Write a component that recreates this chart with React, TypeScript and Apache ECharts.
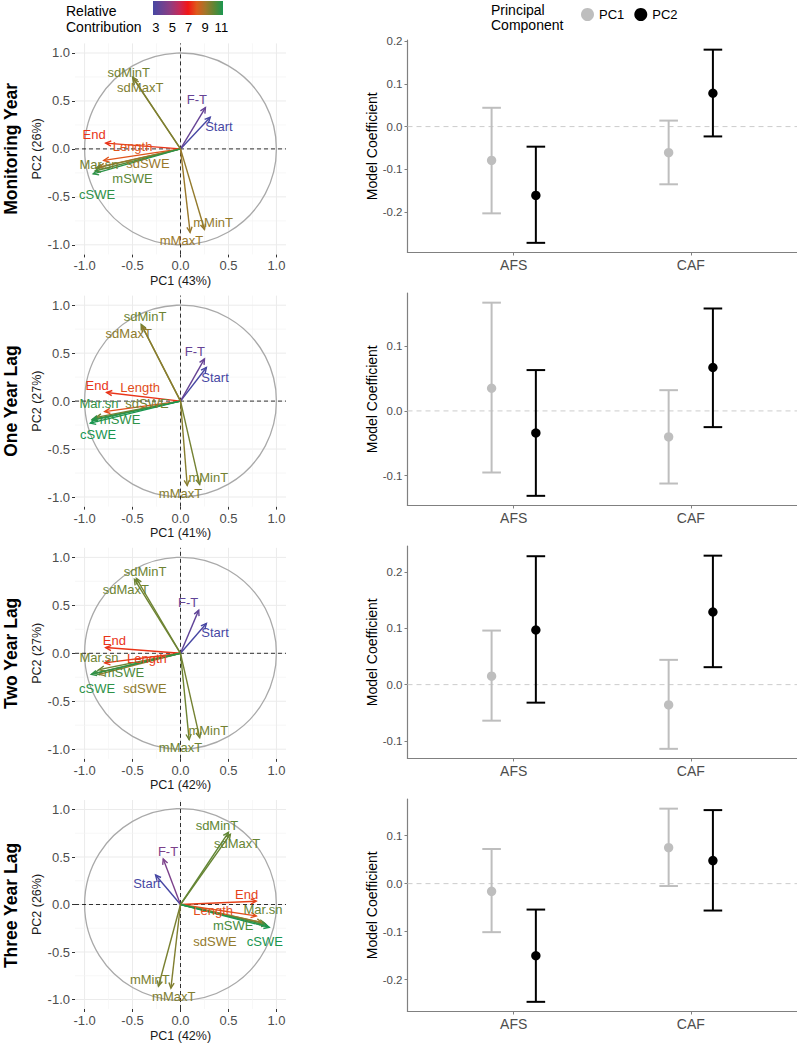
import React, { useEffect, useRef } from 'react';
import * as echarts from 'echarts';

const FONT = '"Liberation Sans", Arial, Helvetica, sans-serif';

// ---------- PCA variable loadings ----------
const variables = ['Start', 'F-T', 'End', 'Length', 'Mar.sn', 'sdSWE', 'mSWE', 'cSWE', 'mMinT', 'mMaxT', 'sdMinT', 'sdMaxT'];
const rowTitles = ['Monitoring Year', 'One Year Lag', 'Two Year Lag', 'Three Year Lag'];
const pc1Explained = ['43%', '41%', '42%', '42%'];
const pc2Explained = ['26%', '27%', '27%', '26%'];

// Monitoring Year
const myPC1 = [0.31, 0.26, -0.78, -0.80, -0.88, -0.85, -0.89, -0.91, 0.25, 0.10, -0.50, -0.49];
const myPC2 = [0.33, 0.43, 0.06, -0.12, -0.20, -0.19, -0.23, -0.26, -0.84, -0.87, 0.75, 0.73];
const myContrib = [2.5, 3.6, 7.4, 7.9, 9.8, 9.2, 10.2, 10.9, 9.3, 9.2, 9.8, 9.6];
const myLabelX = [0.40, 0.17, -0.90, -0.50, -0.85, -0.34, -0.50, -0.87, 0.34, 0.01, -0.54, -0.42];
const myLabelY = [0.23, 0.52, 0.15, 0.02, -0.16, -0.15, -0.31, -0.48, -0.77, -0.95, 0.80, 0.64];

// One Year Lag
const oyPC1 = [0.27, 0.25, -0.77, -0.79, -0.92, -0.88, -0.92, -0.94, 0.20, 0.07, -0.41, -0.40];
const oyPC2 = [0.35, 0.44, 0.09, -0.11, -0.19, -0.17, -0.20, -0.23, -0.87, -0.88, 0.80, 0.78];
const oyContrib = [2.4, 3.6, 7.4, 7.8, 10.8, 9.8, 10.9, 11.4, 9.8, 9.5, 9.9, 9.4];
const oyLabelX = [0.36, 0.15, -0.87, -0.42, -0.85, -0.35, -0.63, -0.86, 0.29, 0.00, -0.37, -0.54];
const oyLabelY = [0.25, 0.52, 0.16, 0.14, -0.03, -0.03, -0.19, -0.35, -0.80, -0.96, 0.88, 0.70];

// Two Year Lag
const tyPC1 = [0.27, 0.19, -0.78, -0.79, -0.85, -0.85, -0.90, -0.93, 0.20, 0.09, -0.46, -0.48];
const tyPC2 = [0.31, 0.45, 0.06, -0.10, -0.17, -0.22, -0.21, -0.22, -0.88, -0.90, 0.78, 0.77];
const tyContrib = [2.0, 3.4, 7.4, 7.5, 9.9, 9.4, 10.4, 10.9, 9.8, 9.9, 9.9, 9.9];
const tyLabelX = [0.36, 0.08, -0.69, -0.35, -0.85, -0.37, -0.59, -0.87, 0.29, 0.00, -0.37, -0.57];
const tyLabelY = [0.22, 0.53, 0.13, -0.05, -0.04, -0.37, -0.20, -0.37, -0.80, -0.98, 0.85, 0.67];

// Three Year Lag
const thPC1 = [-0.26, -0.18, 0.79, 0.79, 0.88, 0.85, 0.90, 0.925, -0.23, -0.10, 0.50, 0.52];
const thPC2 = [0.31, 0.48, 0.035, -0.12, -0.20, -0.19, -0.22, -0.24, -0.86, -0.88, 0.76, 0.74];
const thContrib = [2.0, 4.2, 7.6, 7.8, 10.0, 9.3, 10.5, 11.2, 9.7, 9.6, 10.1, 10.0];
const thLabelX = [-0.35, -0.13, 0.69, 0.34, 0.86, 0.36, 0.55, 0.88, -0.32, -0.07, 0.38, 0.59];
const thLabelY = [0.22, 0.56, 0.11, -0.06, -0.05, -0.39, -0.22, -0.39, -0.79, -0.97, 0.83, 0.64];

const pcaTicks = [-1, -0.5, 0, 0.5, 1];
const pcaGridValues = [-1, -0.75, -0.5, -0.25, 0, 0.25, 0.5, 0.75, 1];
const contribTicks = [3, 5, 7, 9, 11];
const contribColors = ['#4747A3', '#6A4393', '#903C80', '#C42A5A', '#F21616', '#DE5A1C', '#A2762A', '#5E8634', '#1A9650'];
const contribMin = 2.65;
const contribMax = 11.2;

// ---------- Model coefficients ----------
const categories = ['AFS', 'CAF'];
// Monitoring Year
const myCoefPC1 = [-0.079, -0.061];
const myLowPC1 = [-0.203, -0.135];
const myHighPC1 = [0.044, 0.014];
const myCoefPC2 = [-0.161, 0.078];
const myLowPC2 = [-0.272, -0.023];
const myHighPC2 = [-0.047, 0.180];
const myCoefTicks = [-0.2, -0.1, 0, 0.1, 0.2];
// One Year Lag
const oyCoefPC1 = [0.035, -0.040];
const oyLowPC1 = [-0.095, -0.112];
const oyHighPC1 = [0.167, 0.032];
const oyCoefPC2 = [-0.034, 0.067];
const oyLowPC2 = [-0.131, -0.025];
const oyHighPC2 = [0.063, 0.158];
const oyCoefTicks = [-0.1, 0, 0.1];
// Two Year Lag
const tyCoefPC1 = [0.015, -0.036];
const tyLowPC1 = [-0.064, -0.114];
const tyHighPC1 = [0.096, 0.044];
const tyCoefPC2 = [0.097, 0.129];
const tyLowPC2 = [-0.032, 0.031];
const tyHighPC2 = [0.228, 0.229];
const tyCoefTicks = [-0.1, 0, 0.1, 0.2];
// Three Year Lag
const thCoefPC1 = [-0.016, 0.075];
const thLowPC1 = [-0.101, -0.005];
const thHighPC1 = [0.072, 0.156];
const thCoefPC2 = [-0.150, 0.048];
const thLowPC2 = [-0.246, -0.056];
const thHighPC2 = [-0.054, 0.153];
const thCoefTicks = [-0.2, -0.1, 0, 0.1];

const pcaPanels = [
  { pc1: myPC1, pc2: myPC2, contrib: myContrib, lx: myLabelX, ly: myLabelY },
  { pc1: oyPC1, pc2: oyPC2, contrib: oyContrib, lx: oyLabelX, ly: oyLabelY },
  { pc1: tyPC1, pc2: tyPC2, contrib: tyContrib, lx: tyLabelX, ly: tyLabelY },
  { pc1: thPC1, pc2: thPC2, contrib: thContrib, lx: thLabelX, ly: thLabelY },
];
const coefPanels = [
  { c1: myCoefPC1, l1: myLowPC1, h1: myHighPC1, c2: myCoefPC2, l2: myLowPC2, h2: myHighPC2, ticks: myCoefTicks },
  { c1: oyCoefPC1, l1: oyLowPC1, h1: oyHighPC1, c2: oyCoefPC2, l2: oyLowPC2, h2: oyHighPC2, ticks: oyCoefTicks },
  { c1: tyCoefPC1, l1: tyLowPC1, h1: tyHighPC1, c2: tyCoefPC2, l2: tyLowPC2, h2: tyHighPC2, ticks: tyCoefTicks },
  { c1: thCoefPC1, l1: thLowPC1, h1: thHighPC1, c2: thCoefPC2, l2: thLowPC2, h2: thHighPC2, ticks: thCoefTicks },
];

const PC1_COLOR = '#BEBEBE';
const PC2_COLOR = '#000000';

function buildOption() {
  const grid: any[] = [];
  const xAxis: any[] = [];
  const yAxis: any[] = [];
  const series: any[] = [];
  const graphic: any[] = [];
  const colorSeries: number[] = [];

  const leftTop0 = 43.4, leftStep = 252.2, leftSize = 211;
  const rightTop0 = 40, rightStep = 253, rightH = 212.5;

  pcaPanels.forEach((p, i) => {
    const top = leftTop0 + leftStep * i;
    grid.push({ left: 75, top, width: leftSize, height: leftSize });
    xAxis.push({
      gridIndex: i, type: 'value', min: -1.1, max: 1.1,
      name: `PC1 (${pc1Explained[i]})`, nameLocation: 'middle', nameGap: 20,
      nameTextStyle: { fontSize: 12.5, color: '#1A1A1A', fontFamily: FONT },
      axisLine: { show: false, onZero: false }, splitLine: { show: false },
      axisTick: { show: true, length: 3, lineStyle: { color: '#333333' }, customValues: pcaTicks },
      axisLabel: { customValues: pcaTicks, formatter: (v: number) => v.toFixed(1), fontSize: 13, color: '#4D4D4D', margin: 5, fontFamily: FONT },
    });
    yAxis.push({
      gridIndex: i, type: 'value', min: -1.1, max: 1.1,
      name: `PC2 (${pc2Explained[i]})`, nameLocation: 'middle', nameGap: 32, nameRotate: 90,
      nameTextStyle: { fontSize: 12.5, color: '#1A1A1A', fontFamily: FONT },
      axisLine: { show: false, onZero: false }, splitLine: { show: false },
      axisTick: { show: true, length: 3, lineStyle: { color: '#333333' }, customValues: pcaTicks },
      axisLabel: { customValues: pcaTicks, formatter: (v: number) => v.toFixed(1), fontSize: 13, color: '#4D4D4D', margin: 5, fontFamily: FONT },
    });
    // background grid lines
    series.push({
      type: 'custom', xAxisIndex: i, yAxisIndex: i, silent: true, z: 1,
      data: pcaGridValues.map((v) => [v]),
      renderItem: (params: any, api: any) => {
        const v = api.value(0);
        const major = Math.abs(v * 2 - Math.round(v * 2)) < 1e-6;
        const style = { stroke: major ? '#EBEBEB' : '#F4F4F4', lineWidth: major ? 1 : 0.7 };
        const a = api.coord([v, -1.1]), b = api.coord([v, 1.1]);
        const c = api.coord([-1.1, v]), d = api.coord([1.1, v]);
        return {
          type: 'group', children: [
            { type: 'line', shape: { x1: a[0], y1: a[1], x2: b[0], y2: b[1] }, style },
            { type: 'line', shape: { x1: c[0], y1: c[1], x2: d[0], y2: d[1] }, style },
          ],
        };
      },
    });
    // unit circle and dashed zero lines
    series.push({
      type: 'custom', xAxisIndex: i, yAxisIndex: i, silent: true, z: 2,
      data: [[0, 0]],
      renderItem: (params: any, api: any) => {
        const o = api.coord([0, 0]);
        const r = api.size([1, 1]);
        const a = api.coord([-1.1, 0]), b = api.coord([1.1, 0]);
        const c = api.coord([0, -1.1]), d = api.coord([0, 1.1]);
        const dash = { stroke: '#000000', lineWidth: 0.8, lineDash: [4, 3] };
        return {
          type: 'group', children: [
            { type: 'circle', shape: { cx: o[0], cy: o[1], r: r[0] }, style: { stroke: '#A9A9A9', fill: null, lineWidth: 1.3 } },
            { type: 'line', shape: { x1: a[0], y1: a[1], x2: b[0], y2: b[1] }, style: dash },
            { type: 'line', shape: { x1: c[0], y1: c[1], x2: d[0], y2: d[1] }, style: dash },
          ],
        };
      },
    });
    const data = variables.map((n, j) => ({ name: n, value: [p.pc1[j], p.pc2[j], p.contrib[j], p.lx[j], p.ly[j]] }));
    // arrows
    colorSeries.push(series.length);
    series.push({
      type: 'custom', xAxisIndex: i, yAxisIndex: i, silent: true, z: 3,
      encode: { x: 0, y: 1 },
      data,
      renderItem: (params: any, api: any) => {
        const o = api.coord([0, 0]);
        const e = api.coord([api.value(0), api.value(1)]);
        const color = api.visual('color');
        const ang = Math.atan2(e[1] - o[1], e[0] - o[0]);
        const hl = 6, ha = Math.PI / 7;
        const h1 = [e[0] - hl * Math.cos(ang - ha), e[1] - hl * Math.sin(ang - ha)];
        const h2 = [e[0] - hl * Math.cos(ang + ha), e[1] - hl * Math.sin(ang + ha)];
        return {
          type: 'group', children: [
            { type: 'line', shape: { x1: o[0], y1: o[1], x2: e[0], y2: e[1] }, style: { stroke: color, lineWidth: 1.4 } },
            { type: 'polyline', shape: { points: [h1, e, h2] }, style: { stroke: color, fill: null, lineWidth: 1.4 } },
          ],
        };
      },
    });
    // labels
    colorSeries.push(series.length);
    series.push({
      type: 'custom', xAxisIndex: i, yAxisIndex: i, silent: true, z: 4,
      encode: { x: 3, y: 4 },
      data,
      renderItem: (params: any, api: any) => {
        const lp = api.coord([api.value(3), api.value(4)]);
        const color = api.visual('color');
        return {
          type: 'text', x: lp[0], y: lp[1],
          style: { text: variables[params.dataIndex], fill: color, fontSize: 13, fontFamily: FONT, align: 'center', verticalAlign: 'middle' },
        };
      },
    });
    graphic.push({
      type: 'text', x: 11, y: top + leftSize / 2, rotation: Math.PI / 2,
      style: { text: rowTitles[i], fontSize: 17.5, fontWeight: 'bold', fontFamily: FONT, fill: '#000000', align: 'center', verticalAlign: 'middle' },
    });
  });

  coefPanels.forEach((c, i) => {
    const gi = 4 + i;
    const top = rightTop0 + rightStep * i;
    grid.push({ left: 407.5, top, width: 389.5, height: rightH });
    const lo = Math.min(...c.l1, ...c.l2);
    const hi = Math.max(...c.h1, ...c.h2);
    const pad = (hi - lo) * 0.05;
    xAxis.push({
      gridIndex: gi, type: 'value', min: 0.4, max: 2.6,
      axisLine: { onZero: false, lineStyle: { color: '#808080', width: 1.2 } }, splitLine: { show: false },
      axisTick: { show: true, length: 3, lineStyle: { color: '#808080' }, customValues: [1, 2] },
      axisLabel: { customValues: [1, 2], formatter: (v: number) => categories[Math.round(v) - 1], fontSize: 14, color: '#4D4D4D', margin: 5, fontFamily: FONT },
    });
    yAxis.push({
      gridIndex: gi, type: 'value', min: lo - pad, max: hi + pad,
      name: 'Model Coefficient', nameLocation: 'middle', nameGap: 27, nameRotate: 90,
      nameTextStyle: { fontSize: 14, color: '#000000', fontFamily: FONT },
      axisLine: { show: true, onZero: false, lineStyle: { color: '#808080', width: 1.2 } }, splitLine: { show: false },
      axisTick: { show: true, length: 3, lineStyle: { color: '#808080' }, customValues: c.ticks },
      axisLabel: { customValues: c.ticks, formatter: (v: number) => v.toFixed(1), fontSize: 11.5, color: '#4D4D4D', margin: 5, fontFamily: FONT },
    });
    // zero reference line
    series.push({
      type: 'custom', xAxisIndex: gi, yAxisIndex: gi, silent: true, z: 1,
      data: [[0]],
      renderItem: (params: any, api: any) => {
        const a = api.coord([0.4, 0]), b = api.coord([2.6, 0]);
        return { type: 'line', shape: { x1: a[0], y1: a[1], x2: b[0], y2: b[1] }, style: { stroke: '#CCCCCC', lineWidth: 1, lineDash: [5, 4] } };
      },
    });
    const mk = (name: string, color: string, offset: number, coef: number[], low: number[], high: number[]) => ({
      type: 'custom', name, xAxisIndex: gi, yAxisIndex: gi, silent: true, z: 3,
      itemStyle: { color },
      encode: { x: 0, y: 1 },
      data: categories.map((_, k) => [k + 1, coef[k], low[k], high[k]]),
      renderItem: (params: any, api: any) => {
        const x = api.value(0) + offset;
        const pm = api.coord([x, api.value(1)]);
        const pl = api.coord([x, api.value(2)]);
        const ph = api.coord([x, api.value(3)]);
        const hw = 9.3;
        const st = { stroke: color, lineWidth: 2 };
        return {
          type: 'group', children: [
            { type: 'line', shape: { x1: pl[0], y1: pl[1], x2: ph[0], y2: ph[1] }, style: st },
            { type: 'line', shape: { x1: pl[0] - hw, y1: pl[1], x2: pl[0] + hw, y2: pl[1] }, style: st },
            { type: 'line', shape: { x1: ph[0] - hw, y1: ph[1], x2: ph[0] + hw, y2: ph[1] }, style: st },
            { type: 'circle', shape: { cx: pm[0], cy: pm[1], r: 4.7 }, style: { fill: color, stroke: null } },
          ],
        };
      },
    });
    series.push(mk('PC1', PC1_COLOR, -0.125, c.c1, c.l1, c.h1));
    series.push(mk('PC2', PC2_COLOR, 0.125, c.c2, c.l2, c.h2));
  });

  // colour bar legend
  const barX = 153, barY = 1, barW = 70, barH = 14;
  graphic.push({
    type: 'rect', shape: { x: barX, y: barY, width: barW, height: barH },
    style: {
      fill: new echarts.graphic.LinearGradient(0, 0, 1, 0,
        contribColors.map((col, k) => ({ offset: k / (contribColors.length - 1), color: col }))),
    },
  });
  contribTicks.forEach((t) => {
    graphic.push({
      type: 'text', x: barX + ((t - contribMin) / (contribMax - contribMin)) * barW, y: 27,
      style: { text: String(t), fontSize: 13, fontFamily: FONT, fill: '#000000', align: 'center', verticalAlign: 'middle' },
    });
  });
  graphic.push({ type: 'text', x: 66, y: 11, style: { text: 'Relative', fontSize: 14, fontFamily: FONT, fill: '#000000', align: 'left', verticalAlign: 'middle' } });
  graphic.push({ type: 'text', x: 66, y: 27, style: { text: 'Contribution', fontSize: 14, fontFamily: FONT, fill: '#000000', align: 'left', verticalAlign: 'middle' } });
  graphic.push({ type: 'text', x: 491, y: 9.5, style: { text: 'Principal', fontSize: 14, fontFamily: FONT, fill: '#000000', align: 'left', verticalAlign: 'middle' } });
  graphic.push({ type: 'text', x: 491, y: 25, style: { text: 'Component', fontSize: 14, fontFamily: FONT, fill: '#000000', align: 'left', verticalAlign: 'middle' } });

  return {
    animation: false,
    textStyle: { fontFamily: FONT },
    grid, xAxis, yAxis, series, graphic,
    legend: {
      data: [{ name: 'PC1', icon: 'circle' }, { name: 'PC2', icon: 'circle' }],
      left: 576, top: 3, itemWidth: 13, itemHeight: 13, itemGap: 10,
      textStyle: { fontSize: 13, color: '#000000', fontFamily: FONT },
      selectedMode: false,
    },
    visualMap: [{
      type: 'continuous', show: false, min: contribMin, max: contribMax, dimension: 2,
      seriesIndex: colorSeries, inRange: { color: contribColors },
    }],
  };
}

export default function App() {
  const ref = useRef<HTMLDivElement>(null);
  useEffect(() => {
    if (!ref.current) return;
    const chart = echarts.init(ref.current, undefined, { renderer: 'svg' });
    chart.setOption(buildOption() as any);
    return () => chart.dispose();
  }, []);
  return <div ref={ref} style={{ position: 'absolute', left: 0, top: 0, width: 797, height: 1043, background: '#ffffff' }} />;
}
